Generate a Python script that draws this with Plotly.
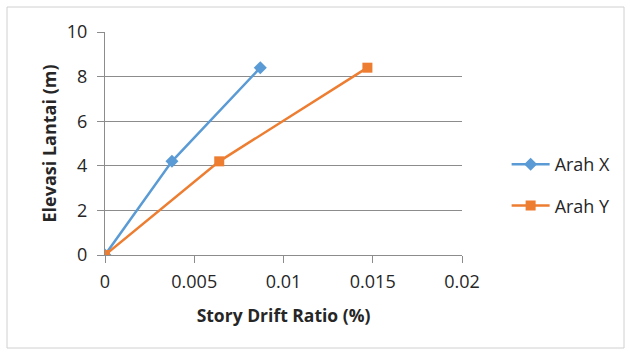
import plotly.graph_objects as go

# Story drift ratio per floor elevation
elevasi = [0, 4.2, 8.4]
drift_x = [0, 0.00375, 0.0087]
drift_y = [0, 0.0064, 0.0147]

x_ticks = [0, 0.005, 0.01, 0.015, 0.02]
x_tick_text = ["0", "0.005", "0.01", "0.015", "0.02"]
y_ticks = [0, 2, 4, 6, 8, 10]

BLUE = "#5B9BD5"
ORANGE = "#ED7D31"
GRID = "#8C8C8C"
FONT = "'Open Sans', Lato, sans-serif"
TEXT = "#262626"

fig = go.Figure()
fig.add_trace(go.Scatter(
    x=drift_x, y=elevasi, name="Arah X", mode="lines+markers",
    legendgroup="x",
    line=dict(color=BLUE, width=2.5),
    marker=dict(symbol="diamond", size=10, color=BLUE),
))
fig.add_trace(go.Scatter(
    x=drift_y, y=elevasi, name="Arah Y", mode="lines+markers",
    legendgroup="y",
    line=dict(color=ORANGE, width=2.5),
    marker=dict(symbol="square", size=10, color=ORANGE),
))

L, R, T, B = 105, 168, 32, 101
W, H = 630, 356
pw, ph = W - L - R, H - T - B

fig.update_layout(
    width=W, height=H,
    margin=dict(l=L, r=R, t=T, b=B),
    paper_bgcolor="white", plot_bgcolor="white",
    font=dict(family=FONT, size=18, color=TEXT),
    showlegend=True,
    legend=dict(
        x=1.125, y=(H - B - 185) / ph, xanchor="left", yanchor="middle",
        font=dict(size=18, color=TEXT),
        itemwidth=38, tracegroupgap=15,
        bgcolor="rgba(0,0,0,0)",
    ),
    xaxis=dict(
        range=[0, 0.02], tickvals=x_ticks, ticktext=x_tick_text,
        showgrid=False, zeroline=False,
        showline=True, linecolor=GRID, linewidth=1,
        ticks="outside", ticklen=7, tickcolor=GRID,
        ticklabelstandoff=3,
        tickfont=dict(size=18),
        title=dict(text="<b>Story Drift Ratio (%)</b>", font=dict(size=17.5), standoff=18),
    ),
    yaxis=dict(
        range=[0, 10], tickvals=y_ticks,
        showgrid=True, gridcolor=GRID, gridwidth=1, zeroline=False,
        showline=True, linecolor=GRID, linewidth=1,
        ticks="outside", ticklen=7, tickcolor=GRID,
        ticklabelstandoff=6,
        tickfont=dict(size=18),
        title=dict(text="<b>Elevasi Lantai (m)</b>", font=dict(size=18), standoff=5),
    ),
    shapes=[dict(
        type="rect", xref="paper", yref="paper",
        x0=(7 - L) / pw, x1=(624 - L) / pw,
        y0=(H - B - 348) / ph, y1=(H - B - 7) / ph,
        line=dict(color="#D0D0D0", width=1), layer="below",
    )],
)

fig.write_html("out.html")
